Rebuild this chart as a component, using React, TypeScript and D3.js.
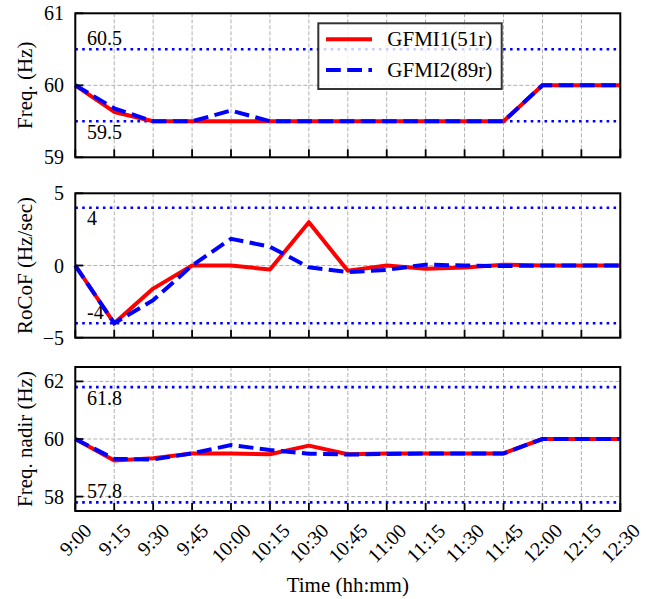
import React from "react";
import * as d3 from "d3";

const times = ["9:00","9:15","9:30","9:45","10:00","10:15","10:30","10:45","11:00","11:15","11:30","11:45","12:00","12:15","12:30"];
const seriesNames = ["GFMI1(51r)", "GFMI2(89r)"];

const freq1 = [60, 59.63, 59.5, 59.5, 59.5, 59.5, 59.5, 59.5, 59.5, 59.5, 59.5, 59.5, 60, 60, 60];
const freq2 = [60, 59.68, 59.5, 59.5, 59.65, 59.5, 59.5, 59.5, 59.5, 59.5, 59.5, 59.5, 60, 60, 60];

const rocof1 = [0, -4, -1.6, 0, 0, -0.28, 3.0, -0.37, 0.0, -0.22, -0.14, 0.06, 0, 0, 0];
const rocof2 = [0, -4, -2.4, 0, 1.85, 1.3, -0.12, -0.46, -0.3, 0.06, 0.0, -0.04, 0, 0, 0];

const nadir1 = [60, 59.25, 59.33, 59.5, 59.5, 59.47, 59.77, 59.47, 59.5, 59.5, 59.5, 59.5, 60, 60, 60];
const nadir2 = [60, 59.31, 59.29, 59.5, 59.79, 59.62, 59.49, 59.46, 59.48, 59.5, 59.5, 59.5, 60, 60, 60];

const freqTicks = [59, 60, 61];
const rocofTicks = [-5, 0, 5];
const nadirTicks = [58, 60, 62];

const freqLimits = [60.5, 59.5];
const rocofLimits = [4, -4];
const nadirLimits = [61.8, 57.8];

const FONT = "'Liberation Serif', 'Times New Roman', Times, serif";
const X0 = 75.3, X1 = 620.3;

type Panel = {
  top: number; bottom: number; domain: [number, number]; ticks: number[]; tickLabels: string[];
  s1: number[]; s2: number[]; limits: number[]; limitLabels: string[]; label: string;
  labelPos: ("above" | "below")[]; grid: number[];
};

const panels: Panel[] = [
  { top: 13.3, bottom: 157.3, domain: [59, 61], ticks: freqTicks, tickLabels: freqTicks.map(String),
    s1: freq1, s2: freq2, limits: freqLimits, limitLabels: ["60.5", "59.5"], label: "Freq. (Hz)",
    labelPos: ["above", "below"], grid: [60] },
  { top: 193.3, bottom: 337.7, domain: [-5, 5], ticks: rocofTicks, tickLabels: ["\u22125", "0", "5"],
    s1: rocof1, s2: rocof2, limits: rocofLimits, limitLabels: ["4", "-4"], label: "RoCoF (Hz/sec)",
    labelPos: ["below", "above"], grid: [0] },
  { top: 367, bottom: 511, domain: [57.5, 62.5], ticks: nadirTicks, tickLabels: nadirTicks.map(String),
    s1: nadir1, s2: nadir2, limits: nadirLimits, limitLabels: ["61.8", "57.8"], label: "Freq. nadir (Hz)",
    labelPos: ["below", "above"], grid: [58, 60, 62] },
];

function textWidthEm(s: string) {
  let w = 0;
  for (const c of s) w += c === ":" ? 0.278 : 0.5;
  return w;
}

export default function App() {
  const x = d3.scaleLinear().domain([0, times.length - 1]).range([X0, X1]);
  const tickFont = 20;
  const labelFont = 21;
  return (
    <svg width={647} height={599} style={{ position: "absolute", left: 0, top: 0, background: "#fff" }} fontFamily={FONT}>
      <rect x={0} y={0} width={647} height={599} fill="#fff" />
      {panels.map((p, pi) => {
        const y = d3.scaleLinear().domain(p.domain).range([p.bottom, p.top]);
        const line = d3.line<number>().x((_, i) => x(i)).y((v) => y(v));
        const midY = (p.top + p.bottom) / 2;
        return (
          <g key={pi}>
            {times.map((_, i) => (
              <line key={"gx" + i} x1={x(i)} x2={x(i)} y1={p.top} y2={p.bottom} stroke="#b0b0b0" strokeWidth={1} strokeDasharray="4,2" />
            ))}
            {p.grid.map((g) => (
              <line key={"gy" + g} x1={X0} x2={X1} y1={y(g)} y2={y(g)} stroke="#b0b0b0" strokeWidth={1} strokeDasharray="4,2" />
            ))}
            {p.limits.map((l, li) => (
              <g key={"lim" + li}>
                <line x1={X0} x2={X1} y1={y(l)} y2={y(l)} stroke="#0000ff" strokeWidth={2.6} strokeDasharray="2.6,4.3" />
                <text x={87} y={p.labelPos[li] === "above" ? y(l) - 4 : y(l) + 17.5} fontSize={tickFont} fill="#000">{p.limitLabels[li]}</text>
              </g>
            ))}
            <path d={line(p.s1) || ""} fill="none" stroke="#ff0000" strokeWidth={4} strokeLinejoin="round" />
            <path d={line(p.s2) || ""} fill="none" stroke="#0000ff" strokeWidth={4} strokeDasharray="14.8,6.4" />
            {times.map((_, i) => (
              <line key={"tx" + i} x1={x(i)} x2={x(i)} y1={p.bottom} y2={p.bottom - 8} stroke="#000" strokeWidth={1.8} />
            ))}
            {p.ticks.map((t) => (
              <line key={"ty" + t} x1={X0} x2={X0 + 8} y1={y(t)} y2={y(t)} stroke="#000" strokeWidth={1.8} />
            ))}
            {p.ticks.map((t, ti) => (
              <text key={"tl" + t} x={64} y={y(t)} textAnchor="end" dominantBaseline="central" fontSize={tickFont}>{p.tickLabels[ti]}</text>
            ))}
            <rect x={X0} y={p.top} width={X1 - X0} height={p.bottom - p.top} fill="none" stroke="#000" strokeWidth={2} />
            <text transform={`translate(25,${midY}) rotate(-90)`} textAnchor="middle" dominantBaseline="central" fontSize={labelFont}>{p.label}</text>
          </g>
        );
      })}
      {times.map((t, i) => {
        const w = textWidthEm(t) * tickFont;
        const h = tickFont * 0.7;
        const cy = 522 + ((w + h) * 0.7071) / 2;
        return (
          <text key={"xl" + i} transform={`translate(${x(i)},${cy}) rotate(-45)`} textAnchor="middle" dominantBaseline="central" fontSize={tickFont}>{t}</text>
        );
      })}
      <text x={(X0 + X1) / 2} y={592} textAnchor="middle" fontSize={labelFont}>Time (hh:mm)</text>
      <g>
        <rect x={318.3} y={23.3} width={183.4} height={65.7} fill="#fff" fillOpacity={0.8} stroke="#333" strokeWidth={2} />
        <line x1={326} x2={372} y1={39.3} y2={39.3} stroke="#ff0000" strokeWidth={4} />
        <line x1={326} x2={372} y1={70} y2={70} stroke="#0000ff" strokeWidth={4} strokeDasharray="14.8,6.4" />
        <text x={387.3} y={39.3} dominantBaseline="central" fontSize={labelFont}>{seriesNames[0]}</text>
        <text x={387.3} y={70} dominantBaseline="central" fontSize={labelFont}>{seriesNames[1]}</text>
      </g>
    </svg>
  );
}
